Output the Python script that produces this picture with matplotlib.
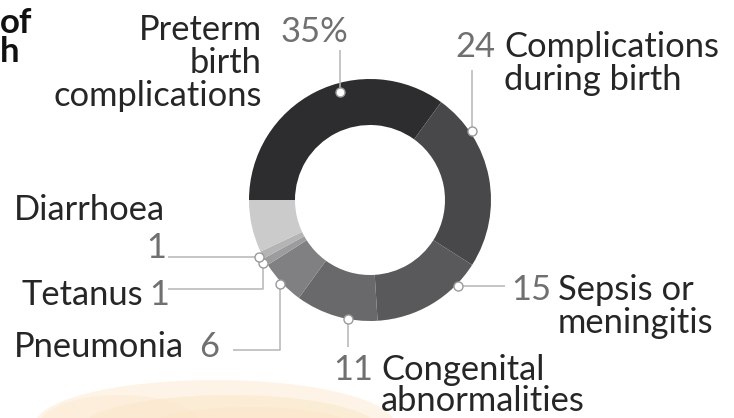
import matplotlib
matplotlib.use("Agg")
import matplotlib.pyplot as plt
from matplotlib.patches import Ellipse
import numpy as np

# ---- data ----
categories = ["Preterm birth complications", "Complications during birth",
              "Sepsis or meningitis", "Congenital abnormalities",
              "Pneumonia", "Tetanus", "Diarrhoea", "Other"]
values = [35, 24, 15, 11, 6, 1, 1, 7]
value_labels = ["35%", "24", "15", "11", "6", "1", "1", ""]
colors = ["#2d2d2f", "#48484a", "#59595b", "#69696b", "#808082", "#9c9c9e", "#b4b4b4", "#cbcbcb"]

W, H = 734, 418
fig = plt.figure(figsize=(W / 100, H / 100), dpi=100)
ax = fig.add_axes([0, 0, 1, 1])

def Y(y):
    return H - y

# faint background blob (photo behind chart)
for (cx, cy, w, h, a) in [(215, 425, 360, 90, 0.45), (230, 430, 300, 70, 0.5),
                          (250, 432, 220, 50, 0.5), (120, 425, 160, 60, 0.35)]:
    ax.add_patch(Ellipse((cx, Y(cy)), w, h, color="#fbe6c8", alpha=a, lw=0, zorder=0))

CX, CY, R, RW = 370, 200, 121, 46
wedges, _ = ax.pie(values, colors=colors, startangle=180, counterclock=False,
                   center=(CX, Y(CY)), radius=R, wedgeprops=dict(width=RW, linewidth=0),
                   frame=True)
ax.set_xlim(0, W)
ax.set_ylim(0, H)
ax.set_aspect("equal")
ax.axis("off")

# marker placement along each wedge (fraction clockwise, radius factor)
mk_frac = [0.59, 0.23, 0.22, 0.35, 0.5, 0.5, 0.5]
mk_rad = [0.93, 1.02, 1.02, 1.0, 1.02, 1.03, 1.03]
pts = []
for wdg, f, rf in zip(wedges, mk_frac, mk_rad):
    ang = np.deg2rad(wdg.theta2 - f * (wdg.theta2 - wdg.theta1))
    pts.append((CX + R * rf * np.cos(ang), Y(CY) + R * rf * np.sin(ang)))

FONT = "Lato"
LAB = "#262626"
NUM = "#707070"
LINE = "#b5b5b5"
FS = 24.8
lk = dict(color=LINE, lw=1.1, zorder=3, solid_capstyle="butt")

# leader lines
(px, py) = pts[0]; ax.plot([px, px], [py, Y(50)], **lk)
(px, py) = pts[1]; ax.plot([px, px], [py, Y(70)], **lk)
(px, py) = pts[2]; ax.plot([px, 505], [py, py], **lk)
(px, py) = pts[3]; ax.plot([px, px], [py, Y(347)], **lk)
(px, py) = pts[4]; ax.plot([px, px, 233], [py, Y(350), Y(350)], **lk)
(px, py) = pts[5]; ax.plot([px, px, 168], [py, Y(289), Y(289)], **lk)
(px, py) = pts[6]; ax.plot([px, 168], [py, py], **lk)

for (px, py) in pts:
    ax.plot(px, py, "o", ms=6.5, mfc="white", mec="#9a9a9a", mew=1.0, zorder=4)

def T(x, y, s, color=LAB, ha="left", fs=FS, weight="normal", **kw):
    ax.text(x, Y(y), s, color=color, ha=ha, va="baseline", fontsize=fs,
            family=FONT, weight=weight, zorder=5, **kw)

# Preterm
T(262, 40, "Preterm", ha="right")
T(262, 73, "birth", ha="right")
T(262, 106, "complications", ha="right")
T(281, 42, value_labels[0], color=NUM)
# Complications during birth
T(455, 57, value_labels[1], color=NUM)
T(504, 57, "Complications")
T(504, 90, "during birth")
# Sepsis
T(511, 300, value_labels[2], color=NUM)
T(558, 300, "Sepsis or")
T(558, 333, "meningitis")
# Congenital
T(333, 380, value_labels[3], color=NUM)
T(381, 380, "Congenital")
T(381, 411, "abnormalities")
# Pneumonia
T(14, 357, "Pneumonia")
T(199, 357, value_labels[4], color=NUM)
# Tetanus
T(22, 305, "Tetanus")
T(149, 305, value_labels[5], color=NUM)
# Diarrhoea
T(14, 220, "Diarrhoea")
T(166, 258, value_labels[6], color=NUM, ha="right")

# title fragments visible at the left edge
fig.text(0 / W, 1 - 7 / H, "of\nh", ha="left", va="top", fontsize=25,
         family=FONT, weight="bold", color="#111111", linespacing=0.88)

fig.savefig("out.png", dpi=100, facecolor="white")
